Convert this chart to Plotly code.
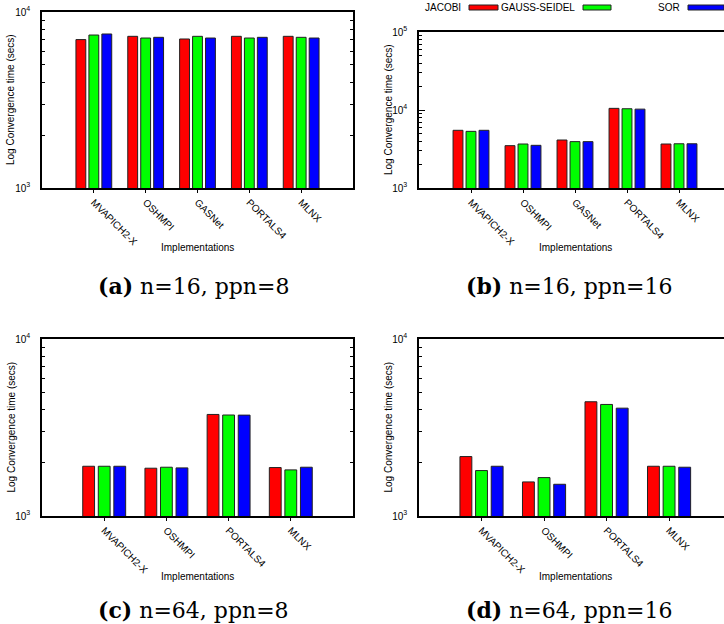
import plotly.graph_objects as go

# ---------------- data ----------------
series_names = ["JACOBI", "GAUSS-SEIDEL", "SOR"]
series_colors = ["#ff0000", "#00ff00", "#0000ff"]

categories_top = ["MVAPICH2-X", "OSHMPI", "GASNet", "PORTALS4", "MLNX"]
categories_bottom = ["MVAPICH2-X", "OSHMPI", "PORTALS4", "MLNX"]

a_jacobi = [6970, 7275, 7025, 7275, 7275]
a_gauss = [7400, 7115, 7275, 7115, 7180]
a_sor = [7500, 7180, 7115, 7180, 7115]

b_jacobi = [5490, 3490, 4125, 10500, 3665]
b_gauss = [5325, 3665, 3930, 10380, 3690]
b_sor = [5490, 3525, 3930, 10260, 3690]

c_jacobi = [1910, 1862, 3748, 1878]
c_gauss = [1910, 1886, 3720, 1822]
c_sor = [1910, 1870, 3715, 1886]

d_jacobi = [2167, 1558, 4420, 1910]
d_gauss = [1806, 1648, 4268, 1910]
d_sor = [1910, 1511, 4067, 1886]

captions = ["<b>(a)</b> n=16, ppn=8", "<b>(b)</b> n=16, ppn=16",
            "<b>(c)</b> n=64, ppn=8", "<b>(d)</b> n=64, ppn=16"]

W, H = 724, 624
SANS = "Liberation Sans, Arial, Helvetica, sans-serif"

panels = [
    (categories_top, [a_jacobi, a_gauss, a_sor], "x", "y", (42, 353), (12, 188), [-1, 5], [3, 4], True),
    (categories_top, [b_jacobi, b_gauss, b_sor], "x2", "y2", (419, 724), (32, 188), [-1, (724 - 471) / 52], [3, 5], False),
    (categories_bottom, [c_jacobi, c_gauss, c_sor], "x3", "y3", (42, 353), (339, 516), [-1, 4], [3, 4], True),
    (categories_bottom, [d_jacobi, d_gauss, d_sor], "x4", "y4", (419, 724), (339, 516), [-1, (724 - 481.2) / 62.6], [3, 4], False),
]

fig = go.Figure()
layout = dict(
    template="none",
    width=W, height=H,
    margin=dict(l=0, r=0, t=0, b=0, pad=0),
    paper_bgcolor="white", plot_bgcolor="white",
    barmode="group", bargap=0.25, bargroupgap=0.24,
    showlegend=False,
    font=dict(family=SANS, size=10, color="black"),
)

for cats, ser, xa, ya, (x0, x1), (yt, yb), xr, yr, right in panels:
    xs = list(range(len(cats)))
    for name, color, vals in zip(series_names, series_colors, ser):
        fig.add_trace(go.Bar(
            x=xs, y=vals, name=name, xaxis=xa, yaxis=ya,
            marker=dict(color=color, line=dict(color="#222222", width=1)),
            showlegend=False,
        ))
    xkey = "xaxis" + xa[1:]
    ykey = "yaxis" + ya[1:]
    decades = list(range(yr[0], yr[1] + 1))
    major = [10 ** d for d in decades]
    minor = [m * 10 ** d for d in decades[:-1] for m in range(2, 10)]
    layout[xkey] = dict(
        domain=[x0 / W, x1 / W], anchor=ya, range=xr, automargin=False,
        tickmode="array", tickvals=xs, ticktext=cats, tickangle=45,
        ticks="outside", ticklen=3, tickcolor="black",
        showline=True, linecolor="black", linewidth=1.5, mirror=True,
        showgrid=False, zeroline=False,
        tickfont=dict(family=SANS, size=10),
    )
    layout[ykey] = dict(
        domain=[1 - yb / H, 1 - yt / H], anchor=xa, type="log", range=yr, automargin=False,
        tickmode="array", tickvals=major,
        ticktext=["10<sup>%d</sup>" % d for d in decades],
        ticks="inside", ticklen=6, tickcolor="black",
        minor=dict(tickmode="array", tickvals=minor, ticks="inside", ticklen=3, tickcolor="black", showgrid=False),
        showline=True, linecolor="black", linewidth=1.5,
        mirror="ticks" if right else False,
        showgrid=False, zeroline=False,
        ticklabelstandoff=8,
        tickfont=dict(family=SANS, size=10),
    )
    # axis titles placed as in the reference
    fig.add_annotation(x=((x0 + 353) / 2 if right else 575) / W, y=1 - (yb + 60) / H,
                       xref="paper", yref="paper", text="Implementations", showarrow=False,
                       xanchor="center", yanchor="middle", font=dict(family=SANS, size=10))
    fig.add_annotation(x=(x0 - 31) / W, y=1 - ((yt + yb) / 2) / H,
                       xref="paper", yref="paper", text="Log Convergence time (secs)", showarrow=False,
                       textangle=-90, xanchor="center", yanchor="middle", font=dict(family=SANS, size=10))

fig.update_layout(**layout)

# ---------------- legend (gnuplot style: text then sample) ----------------
legend_items = [("JACOBI", 463, 469, 498), ("GAUSS-SEIDEL", 577, 583, 611), ("SOR", 682, 688, 724)]
for (label, tx, bx0, bx1), color in zip(legend_items, series_colors):
    fig.add_annotation(x=tx / W, y=1 - 7.5 / H, xref="paper", yref="paper",
                       text=label, showarrow=False, xanchor="right", yanchor="middle",
                       font=dict(family=SANS, size=10, color="black"))
    fig.add_shape(type="rect", xref="paper", yref="paper",
                  x0=bx0 / W, x1=bx1 / W, y0=1 - 10 / H, y1=1 - 5 / H,
                  fillcolor=color, line=dict(color="#222222", width=1))

# ---------------- captions ----------------
cap_pos = [(193, 286), (569, 286), (193, 610), (569, 610)]
for text, (cx, cy) in zip(captions, cap_pos):
    fig.add_annotation(x=cx / W, y=1 - cy / H, xref="paper", yref="paper",
                       text=text, showarrow=False, xanchor="center", yanchor="middle",
                       font=dict(family="DejaVu Serif, Liberation Serif, serif", size=22, color="black"))

fig.write_html("out.html",
               config={"displayModeBar": False},
               post_script="document.body.style.margin='0';document.body.style.padding='0';")
